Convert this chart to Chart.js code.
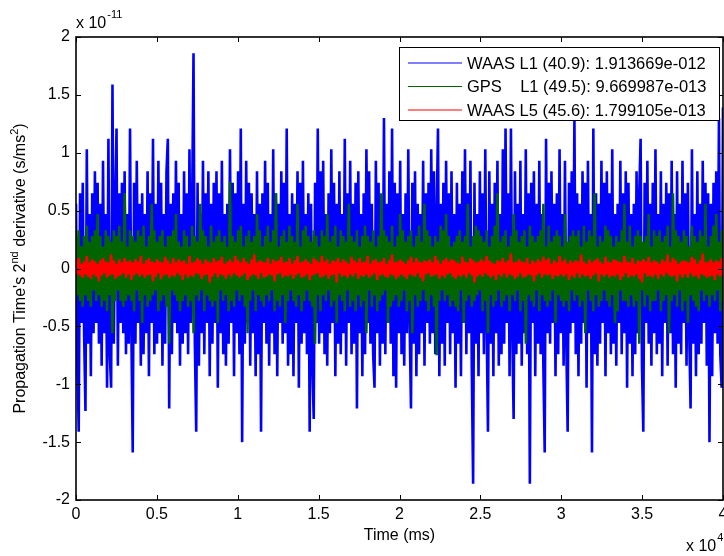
<!DOCTYPE html>
<html>
<head>
<meta charset="utf-8">
<script src="https://cdn.jsdelivr.net/npm/chart.js@4.4.0/dist/chart.umd.min.js"></script>
<style>
html,body{margin:0;padding:0;background:#fff;}
canvas{display:block;}
</style>
</head>
<body>
<canvas id="c" width="724" height="556"></canvas>
<script>
// Time axis span (x 10^4 ms); samples are evenly spaced over it
const timeStart = 0;
const timeEnd = 4;

const seriesNames = [
  "WAAS L1 (40.9): 1.913669e-012",
  "GPS    L1 (49.5): 9.669987e-013",
  "WAAS L5 (45.6): 1.799105e-013"
];
const seriesColors = ["#0000ff", "#006400", "#ff0000"];

const xTickValues = [0, 0.5, 1, 1.5, 2, 2.5, 3, 3.5, 4];
const yTickValues = [-2, -1.5, -1, -0.5, 0, 0.5, 1, 1.5, 2];

// values in units of 1e-11 s/ms^2
const waasL1 = [
  .56,-.74,-1.41,.65,-.47,.74,-.56,-1.23,1.03,-.65,
  .47,-.93,.65,-.56,.84,-.47,.74,-.65,.56,-.84,
  .93,-.56,.47,-1.03,1.12,-.74,-1.03,1.59,-.65,.56,
  1.21,-.84,.65,-.47,.74,-.56,.84,-.74,.47,-.65,
  1.21,-.56,-1.59,.74,-.65,.93,-.47,.56,-.84,.65,
  -.74,.47,-.56,.84,-.93,.65,-.47,1.12,-.74,.56,
  -.65,.93,-.56,.74,-.84,.47,-.65,.84,1.12,-1.21,
  .56,-.74,.65,-.47,.93,-.56,.74,-.84,.47,-.65,
  .84,-.56,.65,-.74,1.03,-.47,.56,1.86,-.65,-1.41,
  .74,-.84,.47,-.56,.93,-.74,.65,-.47,.84,-.93,
  .56,-.65,.74,-.47,.84,-1.03,.65,-.56,.93,-.74,
  .47,-.84,.56,-.65,1.03,-.47,.74,-.93,.65,-.56,
  .84,-.74,1.21,-1.50,.56,-.65,.93,-.47,.74,-.84,
  .65,-.56,.47,-.93,.84,-.74,.56,-1.41,.65,-.47,
  .93,-.65,.74,-.84,.47,-.56,1.03,-.74,.65,-.93,
  .56,-.47,.84,-.65,.74,-.56,1.21,-.84,.47,-.74,
  .65,-.93,.56,-.47,.84,-1.03,.74,-.65,.93,-.56,
  .47,-.74,.65,-1.41,.56,-.84,-1.30,.74,-.47,1.21,
  -.65,.84,-.56,.93,-.74,.47,-.84,.65,-.56,1.03,
  -.47,.74,-.93,.56,-.65,.84,-.74,.47,-.56,1.12,
  -.84,.65,-.47,.93,-.74,.56,-.65,.74,-1.21,.84,
  -.56,.47,-.93,.65,-.74,1.03,-.47,.84,-.65,.56,
  -.74,-1.03,.93,-.56,.74,-.84,.47,-.65,1.30,-.74,
  .56,-.47,.84,-.65,1.21,-.93,.74,-1.03,.65,-.56,
  .93,-.74,.47,-.84,.65,-.56,1.03,-.47,-1.21,.74,
  -.65,.84,-.93,.56,-.74,.47,-.56,.93,-.84,.65,
  -.47,.74,-.65,1.03,-.56,.84,-.74,.47,1.21,-.93,
  .56,-.65,.74,-.84,.93,-.47,.65,-.74,.84,-.56,
  .47,-1.03,.74,-.65,.56,-.93,.84,-.47,1.03,-.74,
  .65,-.56,.93,-.84,-1.86,.74,-.65,.47,-.93,.84,
  -.56,.65,-.74,1.03,-.47,-1.41,.84,-.65,.56,-.93,
  .74,-.56,.93,-.84,.47,-.74,1.03,-.65,1.21,-.47,
  .65,-.93,1.21,-.56,-1.30,.84,-.74,.56,-.65,.93,
  -.84,.47,-.56,1.03,-.74,.65,-1.86,.74,-.47,.84,
  -.93,.56,-.65,.93,-.74,.47,-.84,-1.59,1.12,-.56,
  .74,-.65,.84,-.47,.56,-.93,.65,-.74,1.03,-.56,
  .47,-.84,.93,-.65,-1.41,.74,-.56,.84,-.47,1.30,
  -.74,.65,-.93,.56,-.65,.84,-.47,.74,-1.03,.93,
  -.56,.47,-1.59,1.21,-.74,.65,-.84,.56,-.65,.93,
  -.47,.74,-.93,.84,-.56,.65,-.74,1.03,-.65,.47,
  -.84,.56,-.47,.93,-.74,.65,-.56,.84,-1.03,.74,
  -.65,.47,-.93,.56,-.74,.84,-.56,.65,1.12,-.84,
  -1.41,.74,-.47,.93,-.65,.56,-.84,.74,-.56,1.03,
  -.74,.47,-.65,.84,-.93,.56,-.47,.74,-.84,.65,
  -.56,.93,-.74,.47,-1.03,.84,-.65,.56,-.74,.93,
  -.47,.65,-.84,.74,-.56,-1.21,1.03,-.65,.47,-.93,
  .84,-.74,.56,-.65,.93,-.47,.74,-.84,.65,-1.50,
  .56,-.93,.74,-.56,.84,-.65,1.30,-.74,-1.03,1.39
];
const gpsL1 = [
  .28,-.23,.33,-.28,.19,-.33,.28,-.23,.37,-.28,
  .23,-.33,.28,-.19,.33,-.28,.47,-.23,.28,-.33,
  .19,-.28,.33,-.37,.28,-.23,.23,-.56,.33,-.28,
  .28,-.19,.37,-.28,.23,-.33,.65,-.28,.19,-.23,
  .33,-.28,.28,-.37,.23,-.19,.33,-.28,.28,-.47,
  .37,-.23,.19,-.33,.28,-.28,.56,-.23,.33,-.19,
  .23,-.37,.28,-.28,.33,-.23,.19,-.33,.28,-.65,
  .28,-.19,.33,-.23,.47,-.28,.23,-.37,.19,-.28,
  .33,-.23,.28,-.33,.19,-.28,.37,-.56,.28,-.23,
  .23,-.28,.56,-.19,.33,-.37,.28,-.23,.19,-.28,
  .37,-.33,.23,-.28,.28,-.47,.33,-.19,.23,-.28,
  .28,-.23,.19,-.37,.75,-.28,.28,-.33,.23,-.19,
  .33,-.28,.37,-.23,.19,-.33,.28,-.56,.33,-.28,
  .23,-.19,.28,-.37,.47,-.23,.33,-.28,.19,-.33,
  .28,-.23,.37,-.28,.23,-.19,.33,-.37,.65,-.28,
  .19,-.33,.28,-.23,.33,-.47,.23,-.28,.37,-.19,
  .28,-.28,.23,-.33,.56,-.23,.19,-.37,.33,-.28,
  .37,-.19,.28,-.28,.23,-.33,.33,-.65,.28,-.23,
  .19,-.37,.33,-.23,.28,-.28,.47,-.19,.23,-.33,
  .28,-.28,.37,-.47,.19,-.23,.33,-.28,.28,-.37,
  .23,-.19,.56,-.33,.28,-.28,.23,-.37,.33,-.23,
  .19,-.33,.28,-.28,.37,-.56,.28,-.19,.23,-.33,
  .33,-.23,.19,-.37,.28,-.28,.65,-.23,.33,-.19,
  .28,-.47,.23,-.33,.37,-.28,.19,-.23,.28,-.33,
  .47,-.28,.33,-.19,.23,-.37,.28,-.28,.33,-.56,
  .19,-.23,.28,-.33,.37,-.28,.23,-.19,.56,-.28,
  .33,-.37,.28,-.23,.19,-.33,.28,-.75,.23,-.28,
  .37,-.19,.33,-.28,.47,-.23,.28,-.33,.19,-.28,
  .23,-.33,.28,-.37,.33,-.19,.23,-.47,.28,-.28,
  .56,-.23,.19,-.33,.28,-.28,.37,-.23,.33,-.19,
  .28,-.37,.23,-.28,.33,-.56,.19,-.23,.28,-.33,
  .37,-.28,.65,-.19,.23,-.33,.28,-.28,.33,-.23,
  .19,-.37,.28,-.23,.47,-.28,.33,-.19,.23,-.37,
  .28,-.28,.33,-.65,.19,-.23,.37,-.28,.28,-.33,
  .23,-.19,.28,-.37,.33,-.23,.56,-.28,.19,-.33,
  .37,-.28,.23,-.19,.28,-.47,.33,-.23,.28,-.28,
  .19,-.33,.47,-.28,.23,-.37,.28,-.19,.33,-.28,
  .28,-.23,.33,-.33,.19,-.28,.37,-.56,.23,-.19,
  .33,-.28,.28,-.37,.65,-.23,.19,-.33,.28,-.28,
  .23,-.19,.37,-.28,.33,-.33,.28,-.23,.19,-.47,
  .28,-.37,.23,-.19,.33,-.28,.56,-.28,.23,-.33,
  .37,-.23,.19,-.33,.28,-.28,.33,-.65,.28,-.19,
  .23,-.33,.28,-.23,.47,-.37,.19,-.28,.33,-.28,
  .28,-.19,.33,-.37,.23,-.28,.28,-.23,.37,-.56,
  .19,-.28,.65,-.23,.33,-.33,.28,-.19,.23,-.37,
  .33,-.28,.28,-.47,.19,-.23,.37,-.28,.28,-.33,
  .23,-.37,.33,-.19,.28,-.28,.56,-.23,.19,-.33,
  .28,-.23,.37,-.28,.47,-.19,.23,-.37,.33,-.28
];
const waasL5 = [
  .07,-.05,.09,-.06,.04,-.08,.06,-.05,.11,-.07,
  .05,-.09,.08,-.05,.06,-.07,.04,-.11,.07,-.06,
  .09,-.04,.06,-.08,.05,-.06,.12,-.05,.07,-.09,
  .04,-.07,.08,-.06,.05,-.04,.09,-.08,.06,-.05,
  .07,-.1,.05,-.06,.08,-.04,.06,-.07,.11,-.05,
  .04,-.08,.07,-.06,.09,-.05,.06,-.11,.05,-.07,
  .08,-.04,.06,-.09,.05,-.06,.1,-.05,.07,-.08,
  .04,-.06,.09,-.07,.05,-.04,.08,-.06,.06,-.1,
  .07,-.05,.04,-.08,.11,-.06,.05,-.07,.06,-.04,
  .09,-.05,.07,-.09,.04,-.06,.08,-.05,.06,-.12,
  .05,-.07,.09,-.04,.06,-.08,.07,-.05,.1,-.06,
  .04,-.09,.06,-.05,.08,-.07,.05,-.04,.11,-.06,
  .07,-.08,.05,-.06,.09,-.04,.06,-.1,.04,-.07,
  .08,-.05,.12,-.06,.05,-.09,.07,-.04,.06,-.08,
  .05,-.07,.09,-.05,.04,-.06,.08,-.11,.06,-.05,
  .07,-.04,.1,-.08,.05,-.06,.06,-.07,.09,-.05,
  .04,-.09,.07,-.06,.11,-.04,.05,-.08,.06,-.07,
  .08,-.05,.06,-.1,.04,-.06,.09,-.05,.07,-.04,
  .05,-.08,.11,-.07,.06,-.05,.08,-.09,.04,-.06,
  .07,-.05,.06,-.12,.09,-.04,.05,-.07,.08,-.06,
  .06,-.08,.04,-.05,.1,-.07,.07,-.04,.05,-.09,
  .09,-.06,.05,-.07,.06,-.05,.11,-.08,.04,-.06,
  .07,-.04,.08,-.1,.05,-.06,.06,-.05,.09,-.07,
  .04,-.08,.07,-.05,.12,-.06,.05,-.09,.06,-.07,
  .08,-.05,.06,-.07,.04,-.09,.07,-.05,.1,-.06,
  .05,-.07,.09,-.04,.06,-.08,.05,-.11,.07,-.05,
  .06,-.04,.08,-.07,.05,-.06,.11,-.05,.07,-.09,
  .04,-.06,.07,-.08,.09,-.05,.06,-.04,.08,-.07,
  .07,-.09,.05,-.06,.04,-.07,.1,-.05,.06,-.08,
  .05,-.04,.09,-.06,.07,-.12,.05,-.07,.06,-.05,
  .08,-.07,.06,-.04,.11,-.06,.07,-.08,.05,-.06,
  .04,-.1,.07,-.05,.06,-.07,.09,-.04,.05,-.08,
  .07,-.05,.13,-.06,.05,-.09,.06,-.07,.08,-.04,
  .06,-.08,.05,-.07,.09,-.05,.04,-.06,.07,-.11,
  .05,-.06,.08,-.04,.06,-.08,.1,-.05,.07,-.06,
  .09,-.05,.04,-.09,.07,-.06,.05,-.07,.11,-.05,
  .06,-.07,.08,-.05,.04,-.1,.07,-.06,.05,-.08,
  .07,-.04,.06,-.08,.12,-.05,.06,-.07,.04,-.06,
  .08,-.09,.05,-.06,.07,-.04,.09,-.11,.06,-.05,
  .04,-.07,.1,-.05,.06,-.08,.05,-.06,.08,-.07,
  .07,-.05,.06,-.1,.05,-.07,.11,-.04,.06,-.08,
  .05,-.06,.09,-.07,.04,-.05,.07,-.09,.06,-.12,
  .08,-.04,.06,-.07,.1,-.06,.05,-.08,.07,-.05,
  .06,-.09,.04,-.05,.08,-.07,.06,-.04,.12,-.06,
  .05,-.07,.09,-.06,.07,-.11,.04,-.05,.06,-.08,
  .07,-.05,.06,-.08,.05,-.04,.1,-.07,.08,-.06,
  .04,-.09,.07,-.05,.13,-.06,.05,-.08,.06,-.07,
  .08,-.06,.05,-.1,.07,-.05,.06,-.07,.09,-.05
];

const FONT = "'Liberation Sans', Arial, Helvetica, sans-serif";

function toPoints(vals) {
  const n = vals.length;
  return vals.map((v, i) => ({ x: timeStart + (timeEnd - timeStart) * i / (n - 1), y: v }));
}

const allSeries = [waasL1, gpsL1, waasL5];
const lineWidths = [2.6, 2.5, 2.5];
const datasets = allSeries.map((vals, k) => ({
  label: seriesNames[k],
  data: toPoints(vals),
  borderColor: seriesColors[k],
  backgroundColor: seriesColors[k],
  borderWidth: lineWidths[k],
  borderJoinStyle: 'bevel',
  pointRadius: 0,
  tension: 0,
  fill: false,
  order: 3 - k
}));

const decor = {
  id: 'decor',
  afterDatasetsDraw(chart) {
    const { ctx, chartArea: a, scales: { x, y } } = chart;
    ctx.save();
    ctx.strokeStyle = '#000';
    ctx.lineWidth = 1;
    ctx.beginPath();
    x.ticks.forEach(t => {
      const px = Math.round(x.getPixelForValue(t.value)) + 0.5;
      ctx.moveTo(px, a.bottom); ctx.lineTo(px, a.bottom - 5);
      ctx.moveTo(px, a.top); ctx.lineTo(px, a.top + 5);
    });
    y.ticks.forEach(t => {
      const py = Math.round(y.getPixelForValue(t.value)) + 0.5;
      ctx.moveTo(a.left, py); ctx.lineTo(a.left + 5, py);
      ctx.moveTo(a.right, py); ctx.lineTo(a.right - 5, py);
    });
    ctx.stroke();
    ctx.lineWidth = 1.6;
    ctx.strokeRect(a.left, a.top, a.right - a.left, a.bottom - a.top);

    // legend
    const lx = 399, ly = 47, lw = 320, lh = 73;
    ctx.fillStyle = '#fff';
    ctx.fillRect(lx, ly, lw, lh);
    ctx.lineWidth = 1;
    ctx.strokeStyle = '#000';
    ctx.strokeRect(lx + 0.5, ly + 0.5, lw, lh);
    ctx.font = '16.5px ' + FONT;
    ctx.textBaseline = 'middle';
    ctx.textAlign = 'left';
    chart.data.datasets.forEach((ds, i) => {
      const rowY = ly + 16 + i * 23.5;
      ctx.strokeStyle = ds.borderColor;
      ctx.lineWidth = 1.2;
      ctx.beginPath();
      ctx.moveTo(lx + 9, rowY); ctx.lineTo(lx + 63, rowY);
      ctx.stroke();
      ctx.fillStyle = '#000';
      ctx.fillText(ds.label, lx + 68, rowY + 1);
    });
    ctx.restore();
  },
  afterDraw(chart) {
    const { ctx, chartArea: a } = chart;
    ctx.save();
    ctx.fillStyle = '#000';
    ctx.textBaseline = 'middle';
    ctx.font = '16px ' + FONT;
    ctx.textAlign = 'center';
    ctx.fillText('Time (ms)', (a.left + a.right) / 2, 536);
    ctx.textAlign = 'left';
    ctx.fillText('x 10', 686, 547);
    let w = ctx.measureText('x 10').width;
    ctx.font = '11px ' + FONT;
    ctx.fillText('4', 686 + w + 1, 538);
    ctx.font = '16px ' + FONT;
    ctx.fillText('x 10', 76, 24);
    w = ctx.measureText('x 10').width;
    ctx.font = '11px ' + FONT;
    ctx.fillText('-11', 76 + w + 1, 15);

    const parts = [
      ["Propagation Time's 2", 16, 0],
      ["nd", 11, -6],
      [" derivative (s/ms", 16, 0],
      ["2", 11, -6],
      [")", 16, 0]
    ];
    let total = 0;
    parts.forEach(p => { ctx.font = p[1] + 'px ' + FONT; p.push(ctx.measureText(p[0]).width); total += p[3]; });
    ctx.translate(21, (a.top + a.bottom) / 2);
    ctx.rotate(-Math.PI / 2);
    let cx = -total / 2;
    parts.forEach(p => {
      ctx.font = p[1] + 'px ' + FONT;
      ctx.fillText(p[0], cx, p[2]);
      cx += p[3];
    });
    ctx.restore();
  }
};

const fmt = v => String(Math.round(v * 10) / 10);

new Chart(document.getElementById('c'), {
  type: 'line',
  data: { datasets },
  options: {
    responsive: false,
    animation: false,
    devicePixelRatio: 1,
    layout: { padding: { left: 0, right: 1, top: 37, bottom: 0 } },
    plugins: { legend: { display: false }, tooltip: { enabled: false } },
    scales: {
      x: {
        type: 'linear',
        min: timeStart,
        max: timeEnd,
        afterBuildTicks(s) { s.ticks = xTickValues.map(v => ({ value: v })); },
        grid: { display: false, drawTicks: false },
        border: { display: false },
        ticks: { padding: 5, color: '#000', font: { size: 16, family: FONT }, maxRotation: 0, autoSkip: false, callback: fmt },
        afterFit(s) { s.height = 56; s.paddingLeft = 0; s.paddingRight = 0; }
      },
      y: {
        type: 'linear',
        min: -2,
        max: 2,
        afterBuildTicks(s) { s.ticks = yTickValues.map(v => ({ value: v })); },
        grid: { display: false, drawTicks: false },
        border: { display: false },
        ticks: { padding: 6, color: '#000', font: { size: 16, family: FONT }, autoSkip: false, callback: fmt },
        afterFit(s) { s.width = 76; s.paddingTop = 0; s.paddingBottom = 0; }
      }
    }
  },
  plugins: [decor]
});
</script>
</body>
</html>
